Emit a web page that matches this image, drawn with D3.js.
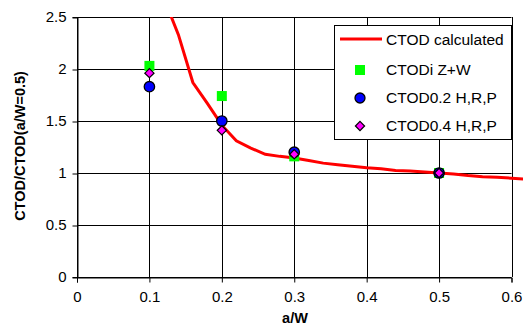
<!DOCTYPE html>
<html><head><meta charset="utf-8">
<script src="https://cdn.jsdelivr.net/npm/d3@7"></script>
<style>body{margin:0;background:#fff}svg{display:block;font-family:"Liberation Sans",Arial,sans-serif}</style>
</head><body><svg id="c" width="523" height="327"></svg>
<script>
const xTicks=[0,0.1,0.2,0.3,0.4,0.5,0.6];
const yTicks=[0,0.5,1,1.5,2,2.5];
const curveA=[0.12,0.14,0.16,0.18,0.2,0.22,0.24,0.26,0.28,0.3,0.32,0.34,0.36,0.38,0.4,0.42,0.44,0.46,0.48,0.5,0.52,0.54,0.56,0.58,0.6,0.62];
const curveV=[2.68,2.33,1.87,1.67,1.46,1.31,1.24,1.18,1.16,1.145,1.12,1.095,1.08,1.065,1.05,1.04,1.025,1.02,1.01,1.0,0.99,0.975,0.965,0.96,0.95,0.94];
const ptA=[0.1,0.2,0.3,0.5];
const zwV=[2.03,1.74,1.16,1.0];
const hrp02V=[1.83,1.50,1.20,1.0];
const hrp04V=[1.96,1.41,1.18,1.0];
const legendLabels=["CTOD calculated","CTODi Z+W","CTOD0.2 H,R,P","CTOD0.4 H,R,P"];

const svg=d3.select("#c");
const L=77,R=511.5,T=17,B=277;
const x=d3.scaleLinear().domain([0,0.6]).range([L,R]);
const y=d3.scaleLinear().domain([0,2.5]).range([B,T]);

// gridlines
svg.append("g").selectAll("line").data(yTicks).join("line")
  .attr("x1",L).attr("x2",R).attr("y1",d=>Math.round(y(d))+0.5).attr("y2",d=>Math.round(y(d))+0.5)
  .attr("stroke","#000").attr("stroke-width",1);
svg.append("g").selectAll("line").data(xTicks).join("line")
  .attr("y1",T).attr("y2",B).attr("x1",d=>Math.round(x(d))+0.5).attr("x2",d=>Math.round(x(d))+0.5)
  .attr("stroke","#000").attr("stroke-width",1);

// axes
const ya=svg.append("g").attr("transform",`translate(${L+0.5},0)`)
  .call(d3.axisLeft(y).tickValues(yTicks).tickFormat(d=>String(d)).tickSize(5).tickPadding(6));
const xa=svg.append("g").attr("transform",`translate(0,${B+0.5})`)
  .call(d3.axisBottom(x).tickValues(xTicks).tickFormat(d=>String(d)).tickSize(5).tickPadding(9));
[ya,xa].forEach(g=>{g.select(".domain").attr("stroke","#000");g.selectAll("line").attr("stroke","#000");
  g.selectAll("text").attr("font-size",15).attr("fill","#000").attr("font-family","'Liberation Sans',Arial,sans-serif");});
ya.selectAll(".tick line").attr("transform","translate(0,0.5)");

// titles
svg.append("text").attr("x",295).attr("y",323).attr("text-anchor","middle").attr("font-weight","bold").attr("font-size",14.5).text("a/W");
svg.append("text").attr("transform","translate(25,146) rotate(-90)").attr("text-anchor","middle").attr("font-weight","bold").attr("font-size",14.5).text("CTOD/CTOD(a/W=0.5)");

// curve
svg.append("clipPath").attr("id","cp").append("rect").attr("x",L).attr("y",T).attr("width",523-L).attr("height",B-T);
const line=d3.line().x((d,i)=>x(curveA[i])).y(d=>y(d));
svg.append("path").datum(curveV).attr("d",line).attr("fill","none").attr("stroke","#ff0000").attr("stroke-width",3).attr("clip-path","url(#cp)");

// markers
const sq=10;
svg.append("g").selectAll("rect").data(zwV).join("rect")
  .attr("x",(d,i)=>x(ptA[i])-sq/2).attr("y",d=>y(d)-sq/2).attr("width",sq).attr("height",sq).attr("fill","#00ff00");
svg.append("g").selectAll("circle").data(hrp02V).join("circle")
  .attr("cx",(d,i)=>x(ptA[i])).attr("cy",d=>y(d)).attr("r",5.2).attr("fill","#0000ff").attr("stroke","#000").attr("stroke-width",1.3);
const dia=(cx,cy,s)=>`M${cx},${cy-s}L${cx+s},${cy}L${cx},${cy+s}L${cx-s},${cy}Z`;
svg.append("g").selectAll("path").data(hrp04V).join("path")
  .attr("d",(d,i)=>dia(x(ptA[i]),y(d),4.6)).attr("fill","#ff00ff").attr("stroke","#000").attr("stroke-width",1.2);

// legend
const lg=svg.append("g");
lg.append("rect").attr("x",334.5).attr("y",25.5).attr("width",177).attr("height",114).attr("fill","#fff").attr("stroke","#000");
const ly=[39,69,97,125];
lg.append("line").attr("x1",340).attr("x2",382).attr("y1",ly[0]).attr("y2",ly[0]).attr("stroke","#ff0000").attr("stroke-width",3);
lg.append("rect").attr("x",360-sq/2).attr("y",ly[1]-sq/2+1).attr("width",sq).attr("height",sq).attr("fill","#00ff00");
lg.append("circle").attr("cx",360).attr("cy",ly[2]+1).attr("r",5).attr("fill","#0000ff").attr("stroke","#000").attr("stroke-width",1.3);
lg.append("path").attr("d",dia(360,ly[3]+1,4.6)).attr("fill","#ff00ff").attr("stroke","#000").attr("stroke-width",1.2);
lg.selectAll("text").data(legendLabels).join("text").attr("x",386).attr("y",(d,i)=>ly[i]+5.5).attr("font-size",15.5).text(d=>d);
</script></body></html>
